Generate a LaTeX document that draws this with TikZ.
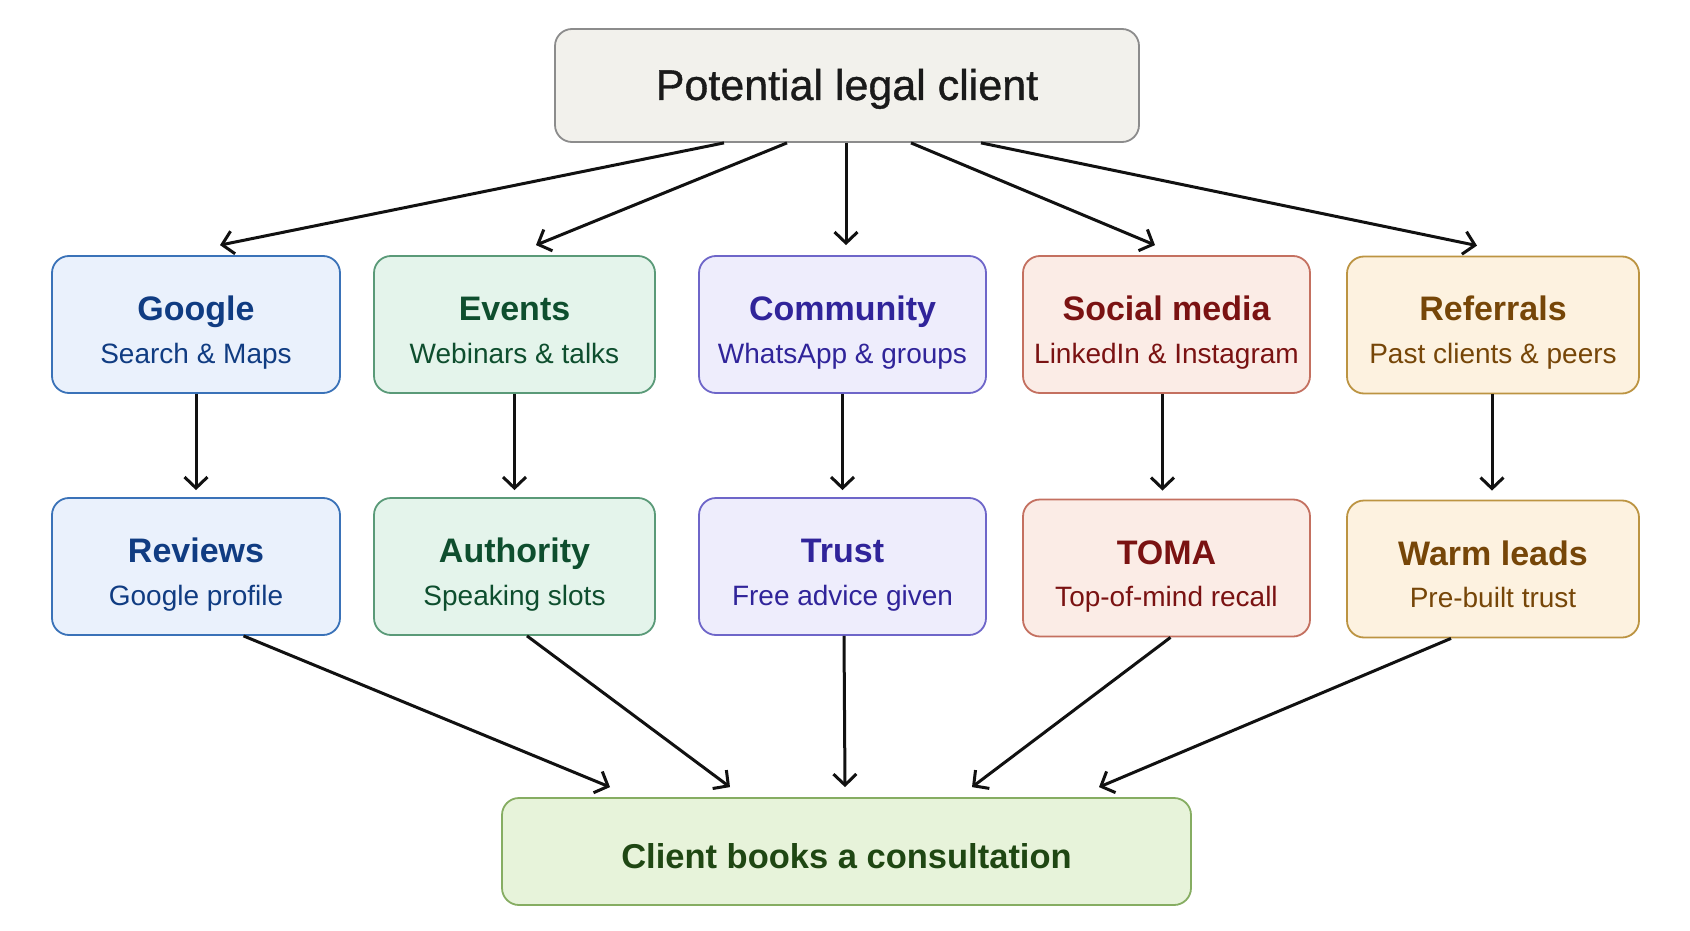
\documentclass[tikz,border=0pt]{standalone}
\usepackage{fontspec}
\setmainfont{Liberation Sans}
\newfontfamily\mediumfont[FakeBold=0.9]{Liberation Sans}
\usetikzlibrary{arrows.meta}

% palette
\definecolor{topfill}{HTML}{F2F1EC}\definecolor{topline}{HTML}{8C8C8C}\definecolor{toptext}{HTML}{1A1A1A}
\definecolor{bluefill}{HTML}{EAF1FC}\definecolor{blueline}{HTML}{3A72B8}\definecolor{bluetext}{HTML}{103C82}
\definecolor{greenfill}{HTML}{E4F4EB}\definecolor{greenline}{HTML}{5A9A78}\definecolor{greentext}{HTML}{0E4E2E}
\definecolor{purpfill}{HTML}{EEEDFC}\definecolor{purpline}{HTML}{6E66C9}\definecolor{purptext}{HTML}{30249A}
\definecolor{redfill}{HTML}{FBECE6}\definecolor{redline}{HTML}{C47060}\definecolor{redtext}{HTML}{7A1212}
\definecolor{ambfill}{HTML}{FDF2E0}\definecolor{ambline}{HTML}{BC9442}\definecolor{ambtext}{HTML}{764608}
\definecolor{limefill}{HTML}{E7F3DA}\definecolor{limeline}{HTML}{86AD62}\definecolor{limetext}{HTML}{1F4713}
\definecolor{arrowink}{HTML}{111111}

\begin{document}
\begin{tikzpicture}[x=1pt,y=-1pt,
  card/.style={draw, rounded corners=17pt, line width=1.8pt, inner sep=0pt},
  cardsize/.style={minimum width=#1, minimum height=137pt},
  ttl/.style={anchor=base, inner sep=0pt, font=\fontsize{34}{40}\selectfont\bfseries},
  sub/.style={anchor=base, inner sep=0pt, font=\fontsize{28}{34}\selectfont},
  flow/.style={draw=arrowink, line width=3pt, -{Straight Barb[length=11pt,width=23pt,line width=3pt]}}
]
\useasboundingbox[fill=white] (0,0) rectangle (1690,931);

% start and end
\node[card, fill=topfill, draw=topline, minimum width=584pt, minimum height=113pt] (top) at (847,85.5) {};
\node[anchor=base, inner sep=0pt, text=toptext, font=\fontsize{43}{50}\mediumfont] (topT) at (847,100) {Potential legal client};

\node[card, fill=limefill, draw=limeline, minimum width=689pt, minimum height=107pt] (book) at (846.5,851.5) {};
\node[ttl, text=limetext, font=\fontsize{34.5}{40}\selectfont\bfseries] (bookT) at (846.5,868) {Client books a consultation};

% channels
\node[card, cardsize=288pt, fill=bluefill, draw=blueline] (google) at (196,324.5) {};
\node[ttl, text=bluetext] (googleT) at (196,320) {Google};
\node[sub, text=bluetext] (googleS) at (196,363) {Search \& Maps};

\node[card, cardsize=281pt, fill=greenfill, draw=greenline] (events) at (514.5,324.5) {};
\node[ttl, text=greentext] (eventsT) at (514.5,320) {Events};
\node[sub, text=greentext] (eventsS) at (514.5,363) {Webinars \& talks};

\node[card, cardsize=287pt, fill=purpfill, draw=purpline] (community) at (842.5,324.5) {};
\node[ttl, text=purptext] (communityT) at (842.5,320) {Community};
\node[sub, text=purptext] (communityS) at (842.5,363) {WhatsApp \& groups};

\node[card, cardsize=287pt, fill=redfill, draw=redline] (social) at (1166.5,324.5) {};
\node[ttl, text=redtext] (socialT) at (1166.5,320) {Social media};
\node[sub, text=redtext] (socialS) at (1166.5,363) {LinkedIn \& Instagram};

\node[card, cardsize=292pt, fill=ambfill, draw=ambline] (referrals) at (1493,325) {};
\node[ttl, text=ambtext] (referralsT) at (1493,320) {Referrals};
\node[sub, text=ambtext] (referralsS) at (1493,363) {Past clients \& peers};

% outcomes
\node[card, cardsize=288pt, fill=bluefill, draw=blueline] (reviews) at (196,566.5) {};
\node[ttl, text=bluetext] (reviewsT) at (196,562) {Reviews};
\node[sub, text=bluetext] (reviewsS) at (196,605) {Google profile};

\node[card, cardsize=281pt, fill=greenfill, draw=greenline] (authority) at (514.5,566.5) {};
\node[ttl, text=greentext] (authorityT) at (514.5,562) {Authority};
\node[sub, text=greentext] (authorityS) at (514.5,605) {Speaking slots};

\node[card, cardsize=287pt, fill=purpfill, draw=purpline] (trust) at (842.5,566.5) {};
\node[ttl, text=purptext] (trustT) at (842.5,562) {Trust};
\node[sub, text=purptext] (trustS) at (842.5,605) {Free advice given};

\node[card, cardsize=287pt, fill=redfill, draw=redline] (toma) at (1166.5,568) {};
\node[ttl, text=redtext] (tomaT) at (1166.5,564.5) {TOMA};
\node[sub, text=redtext] (tomaS) at (1166.5,606) {Top-of-mind recall};

\node[card, cardsize=292pt, fill=ambfill, draw=ambline] (warm) at (1493,569) {};
\node[ttl, text=ambtext] (warmT) at (1493,565) {Warm leads};
\node[sub, text=ambtext] (warmS) at (1493,607) {Pre-built trust};

% fan-out from the prospect
\draw[flow] ([xshift=-123pt]top.south) -- ([xshift=24pt,yshift=10pt]google.north);
\draw[flow] ([xshift=-60pt]top.south) -- ([xshift=21.5pt,yshift=10pt]events.north);
\draw[flow] ([xshift=-1pt]top.south) -- ([xshift=3.5pt,yshift=10pt]community.north);
\draw[flow] ([xshift=64pt]top.south) -- ([xshift=-11.5pt,yshift=10pt]social.north);
\draw[flow] ([xshift=134pt]top.south) -- ([xshift=-16pt,yshift=10pt]referrals.north);

% channel to outcome
\draw[flow] (google.south) -- ([yshift=7pt]reviews.north);
\draw[flow] (events.south) -- ([yshift=7pt]authority.north);
\draw[flow] (community.south) -- ([yshift=7pt]trust.north);
\draw[flow] ([xshift=-4pt]social.south) -- ([xshift=-4pt,yshift=8pt]toma.north);
\draw[flow] ([xshift=-1pt]referrals.south) -- ([xshift=-1pt,yshift=9pt]warm.north);

% converge on the booking
\draw[flow] ([xshift=47.5pt]reviews.south) -- ([xshift=-236.5pt,yshift=10pt]book.north);
\draw[flow] ([xshift=12.5pt]authority.south) -- ([xshift=-116.5pt,yshift=10pt]book.north);
\draw[flow] ([xshift=1.5pt]trust.south) -- ([xshift=-1.5pt,yshift=10pt]book.north);
\draw[flow] ([xshift=4pt]toma.south) -- ([xshift=125.5pt,yshift=10pt]book.north);
\draw[flow] ([xshift=-42pt]warm.south) -- ([xshift=252.5pt,yshift=10pt]book.north);
\end{tikzpicture}
\end{document}
